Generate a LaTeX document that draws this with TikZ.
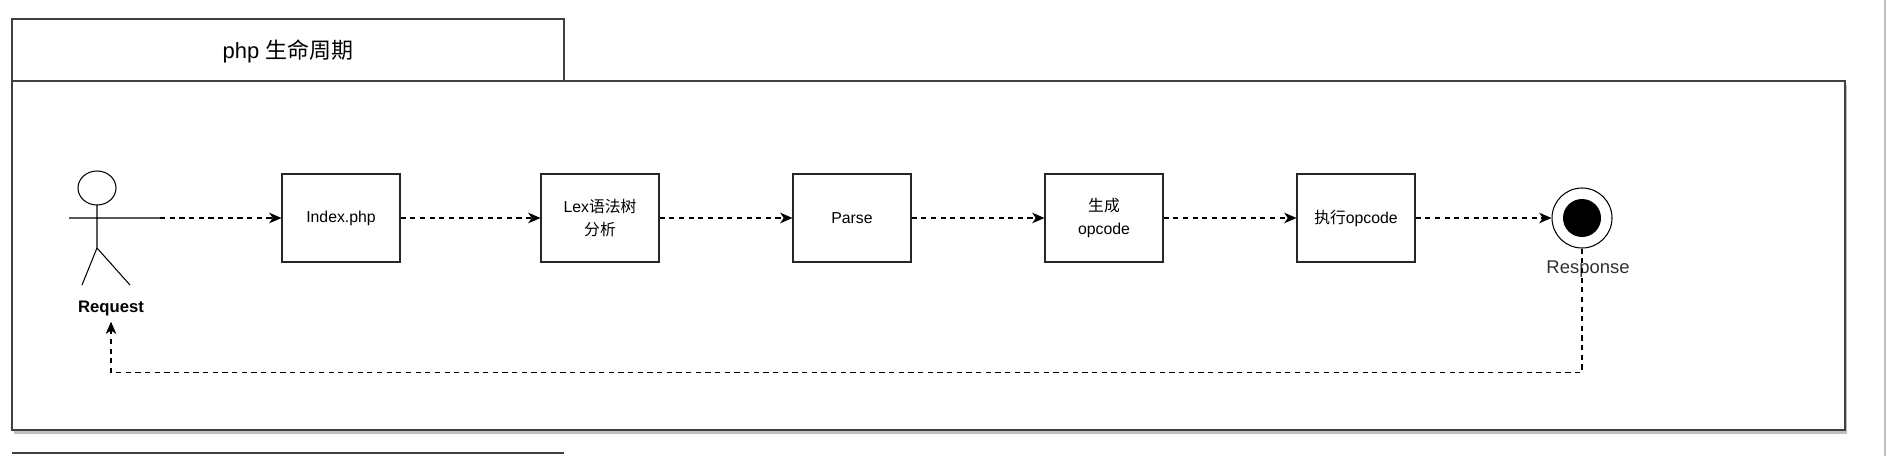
\documentclass[tikz,border=0pt]{standalone}
\usepackage{fontspec}
\setmainfont{Liberation Sans}
\newfontfamily\cjk{Noto Sans CJK SC}
\usetikzlibrary{arrows.meta,positioning,shadows}
\tikzset{
	stage/.style={draw=black!85, line width=0.6pt, minimum width=118*0.02cm, minimum height=88*0.02cm, align=center, font=\fontsize{9}{13}\selectfont},
	flow/.style={dashed, dash pattern=on 3pt off 2.5pt, line width=0.6pt, -{Stealth[length=7pt,width=6pt,inset=2pt]}}
}
\begin{document}
\begin{tikzpicture}[x=0.02cm,y=-0.02cm]
	\useasboundingbox (0,0) rectangle (1900,456);
	%%%%%% frame %%%%%%
	\draw[black!75, line width=0.7pt, fill=white, drop shadow={shadow xshift=1pt, shadow yshift=-2pt, opacity=0.5}] (12,81) rectangle (1845,430);
	\draw[black!75, line width=0.7pt] (12,81) rectangle (564,19);
	\node (title) at (288,51) {\fontsize{12.5}{14}\selectfont php {\cjk 生命周期}};
	\draw[gray!50, line width=1.2pt] (1885,0) -- (1885,456);
	\draw[black!75, line width=0.8pt] (12,453) -- (564,453);
	
	%%%%%% actor %%%%%%
	\draw[line width=0.6pt] (97,188) ellipse (19 and 17);
	\draw[line width=0.6pt] (69,218) -- (160,218)
	(97,205) -- (97,248) -- (82,285)
	(97,248) -- (130,285);
	\coordinate (hand) at (160,218);
	\node[font=\bfseries\fontsize{9.5}{11}\selectfont] (req) at (111,308) {Request};
	
	%%%%%% stages %%%%%%
	\node[stage] (index) at (341,218) {Index.php};
	\node[stage] (lex) at (600,218) {Lex{\cjk 语法树}\\{\cjk 分析}};
	\node[stage] (parse) at (852,218) {Parse};
	\node[stage] (gen) at (1104,218) {{\cjk 生成}\\opcode};
	\node[stage] (exec) at (1356,218) {{\cjk 执行}opcode};
	
	%%%%%% end %%%%%%
	\node[circle, draw, line width=0.6pt, minimum size=60*0.02cm] (resp) at (1582,218) {};
	\fill (resp) circle (19);
	\node[font=\fontsize{10.5}{12}\selectfont, text=black!80] (resplabel) at (1588,269) {Response};
	
	%%%%%% connectors %%%%%%
	\draw[flow] (hand) -- (index);
	\draw[flow] (index) -- (lex);
	\draw[flow] (lex) -- (parse);
	\draw[flow] (parse) -- (gen);
	\draw[flow] (gen) -- (exec);
	\draw[flow] (exec) -- (resp);
	\draw[flow] (resp.south) -- ++(0,124) -| (req.south);
\end{tikzpicture}
\end{document}
